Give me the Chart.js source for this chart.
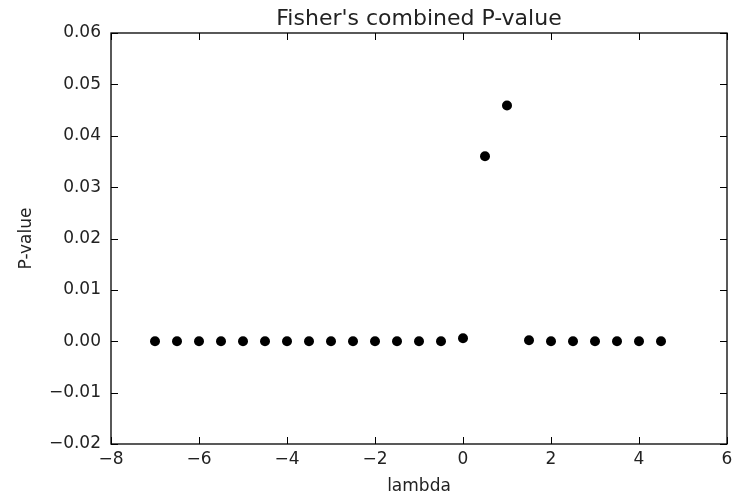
<!DOCTYPE html>
<html>
<head>
<meta charset="utf-8">
<script src="https://cdn.jsdelivr.net/npm/chart.js@4"></script>
<style>
  html, body { margin: 0; padding: 0; background: #fff; }
  #wrap { width: 742px; height: 496px; }
</style>
</head>
<body>
<div id="wrap"><canvas id="myChart" width="742" height="496"></canvas></div>
<script>
// datos
const lambdas = [-7, -6.5, -6, -5.5, -5, -4.5, -4, -3.5, -3, -2.5, -2, -1.5, -1, -0.5,
                 0, 0.5, 1, 1.5, 2, 2.5, 3, 3.5, 4, 4.5];
const pValues = [0, 0, 0, 0, 0, 0, 0, 0, 0, 0, 0, 0, 0, 0,
                 0.0006, 0.036, 0.0459, 0.0002, 0, 0, 0, 0, 0, 0];
const xTicks = [-8, -6, -4, -2, 0, 2, 4, 6];
const yTicks = [-0.02, -0.01, 0.00, 0.01, 0.02, 0.03, 0.04, 0.05, 0.06];
const titulo = "Fisher's combined P-value";

const fuente = "'DejaVu Sans', sans-serif";
const menos = v => String(v).replace('-', '\u2212');

// marco, marcas hacia dentro y titulo centrado sobre el area del grafico
const marco = {
  id: 'marco',
  afterDraw(chart) {
    const { ctx, chartArea: a, scales: { x, y } } = chart;
    const len = 7;
    ctx.save();
    ctx.strokeStyle = '#000';
    ctx.lineWidth = 1.3;
    ctx.strokeRect(a.left, a.top, a.right - a.left, a.bottom - a.top);
    ctx.lineWidth = 1;
    ctx.beginPath();
    xTicks.forEach(v => {
      const px = Math.round(x.getPixelForValue(v)) + 0.5;
      ctx.moveTo(px, a.bottom); ctx.lineTo(px, a.bottom - len);
      ctx.moveTo(px, a.top); ctx.lineTo(px, a.top + len);
    });
    yTicks.forEach(v => {
      const py = Math.round(y.getPixelForValue(v)) + 0.5;
      ctx.moveTo(a.left, py); ctx.lineTo(a.left + len, py);
      ctx.moveTo(a.right, py); ctx.lineTo(a.right - len, py);
    });
    ctx.stroke();

    ctx.fillStyle = '#222';
    ctx.font = '22px ' + fuente;
    ctx.textAlign = 'center';
    ctx.textBaseline = 'alphabetic';
    ctx.fillText(titulo, (a.left + a.right) / 2, 25);
    ctx.restore();
  }
};

const ctx = document.getElementById('myChart');
new Chart(ctx, {
  type: 'scatter',
  data: {
    datasets: [{
      data: lambdas.map((l, i) => ({ x: l, y: pValues[i] })),
      pointRadius: 5,
      pointHoverRadius: 5,
      pointBackgroundColor: '#000',
      pointBorderColor: '#000',
      pointBorderWidth: 0
    }]
  },
  options: {
    responsive: false,
    animation: false,
    devicePixelRatio: 1,
    layout: { padding: { left: 0, right: 15, top: 33, bottom: 0 } },
    plugins: {
      legend: { display: false },
      tooltip: { enabled: false },
      title: { display: false }
    },
    scales: {
      x: {
        type: 'linear',
        min: -8,
        max: 6,
        afterFit: s => { s.height = 52; },
        afterBuildTicks: s => { s.ticks = xTicks.map(v => ({ value: v })); },
        grid: { display: false, drawTicks: false },
        border: { display: false },
        ticks: {
          padding: 5,
          color: '#222',
          font: { family: fuente, size: 17 },
          maxRotation: 0,
          callback: v => menos(v)
        },
        title: {
          display: true,
          text: 'lambda',
          color: '#222',
          font: { family: fuente, size: 17, lineHeight: 1 },
          padding: { top: 0, bottom: 1 }
        }
      },
      y: {
        type: 'linear',
        min: -0.02,
        max: 0.06,
        afterFit: s => { s.width = 111; },
        afterBuildTicks: s => { s.ticks = yTicks.map(v => ({ value: v })); },
        grid: { display: false, drawTicks: false },
        border: { display: false },
        ticks: {
          padding: 10,
          color: '#222',
          font: { family: fuente, size: 17 },
          callback: v => menos(v.toFixed(2))
        },
        title: {
          display: true,
          text: 'P-value',
          color: '#222',
          font: { family: fuente, size: 17, lineHeight: 1.2 },
          padding: { top: 16, bottom: 0 }
        }
      }
    }
  },
  plugins: [marco]
});
</script>
</body>
</html>
